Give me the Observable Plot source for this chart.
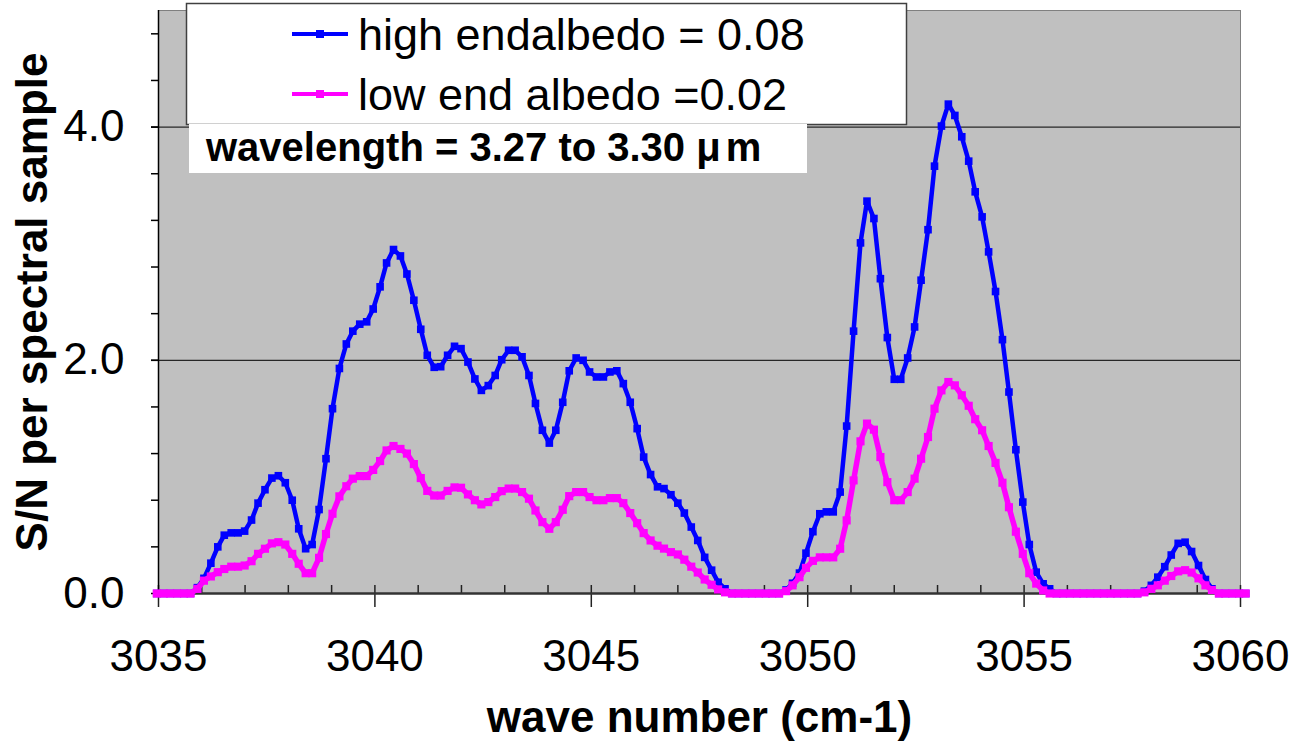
<!DOCTYPE html>
<html>
<head>
<meta charset="utf-8">
<script src="https://cdn.jsdelivr.net/npm/d3@7"></script>
<script src="https://cdn.jsdelivr.net/npm/@observablehq/plot@0.6"></script>
<style>
  html, body { margin: 0; padding: 0; background: #fff; }
  #wrap { position: relative; width: 1313px; height: 746px; font-family: "Liberation Sans", Arial, sans-serif; }
  #overlay { position: absolute; left: 0; top: 0; pointer-events: none; }
</style>
</head>
<body>
<div id="wrap">
  <div id="chart"></div>
  <svg id="overlay" width="1313" height="746" font-family="Liberation Sans, Arial, sans-serif">
    <rect x="186.5" y="3.5" width="720" height="121" fill="#fff" stroke="#404040" stroke-width="1.5"></rect>
    <line x1="292" x2="348" y1="34" y2="34" stroke="#0000ff" stroke-width="4"></line>
    <rect x="316" y="30" width="8" height="8" fill="#0000ff"></rect>
    <text x="358" y="50" font-size="45" fill="#000">high endalbedo = 0.08</text>
    <line x1="292" x2="348" y1="94" y2="94" stroke="#ff00ff" stroke-width="4"></line>
    <rect x="316" y="90" width="8" height="8" fill="#ff00ff"></rect>
    <text x="358" y="110" font-size="45" fill="#000">low end albedo =0.02</text>
    <rect x="189" y="124" width="618" height="49" fill="#fff"></rect>
    <text x="206" y="161" font-size="40" font-weight="bold" fill="#000">wavelength = 3.27 to 3.30 <tspan>μ</tspan><tspan dx="5">m</tspan></text>
  </svg>
</div>
<script>
// ---- data ----
const waveNumber = [
  3034.96,3035.12,3035.27,3035.43,3035.59,3035.74,3035.90,3036.05,3036.21,3036.37,
  3036.52,3036.68,3036.84,3036.99,3037.15,3037.30,3037.46,3037.62,3037.77,3037.93,
  3038.09,3038.24,3038.40,3038.55,3038.71,3038.87,3039.02,3039.18,3039.34,3039.49,
  3039.65,3039.81,3039.96,3040.12,3040.27,3040.43,3040.59,3040.74,3040.90,3041.06,
  3041.21,3041.37,3041.52,3041.68,3041.84,3041.99,3042.15,3042.31,3042.46,3042.62,
  3042.78,3042.93,3043.09,3043.24,3043.40,3043.56,3043.71,3043.87,3044.03,3044.18,
  3044.34,3044.49,3044.65,3044.81,3044.96,3045.12,3045.28,3045.43,3045.59,3045.74,
  3045.90,3046.06,3046.21,3046.37,3046.53,3046.68,3046.84,3047.00,3047.15,3047.31,
  3047.46,3047.62,3047.78,3047.93,3048.09,3048.25,3048.40,3048.56,3048.71,3048.87,
  3049.03,3049.18,3049.34,3049.50,3049.65,3049.81,3049.96,3050.12,3050.28,3050.43,
  3050.59,3050.75,3050.90,3051.06,3051.22,3051.37,3051.53,3051.68,3051.84,3052.00,
  3052.15,3052.31,3052.47,3052.62,3052.78,3052.93,3053.09,3053.25,3053.40,3053.56,
  3053.72,3053.87,3054.03,3054.18,3054.34,3054.50,3054.65,3054.81,3054.97,3055.12,
  3055.28,3055.44,3055.59,3055.75,3055.90,3056.06,3056.22,3056.37,3056.53,3056.69,
  3056.84,3057.00,3057.15,3057.31,3057.47,3057.62,3057.78,3057.94,3058.09,3058.25,
  3058.40,3058.56,3058.72,3058.87,3059.03,3059.19,3059.34,3059.50,3059.65,3059.81,
  3059.97,3060.12
];
const highAlbedo = [
  0,0,0,0,0,0,
  0.05,0.13,0.26,0.40,0.50,
  0.52,0.52,0.535,0.63,0.775,
  0.89,0.99,1.01,0.95,0.80,
  0.555,0.384,0.42,0.72,1.156,
  1.585,1.93,2.14,2.25,2.31,
  2.33,2.44,2.63,2.835,2.95,
  2.895,2.74,2.515,2.266,2.043,
  1.94,1.945,2.043,2.12,2.10,
  1.985,1.84,1.742,1.783,1.87,
  2.005,2.086,2.086,2.03,1.87,
  1.63,1.40,1.29,1.40,1.64,
  1.91,2.02,2.00,1.90,1.857,
  1.857,1.90,1.91,1.80,1.64,
  1.414,1.17,1.02,0.915,0.90,
  0.847,0.775,0.69,0.57,0.455,
  0.31,0.20,0.097,0.04,0,
  0,0,0,0,0,
  0,0,0.03,0.088,0.175,
  0.346,0.53,0.684,0.70,0.70,
  0.87,1.436,2.25,3.007,3.365,
  3.216,2.70,2.195,1.837,1.837,
  2.02,2.286,2.687,3.12,3.665,
  4.009,4.197,4.10,3.917,3.708,
  3.445,3.23,2.93,2.59,2.177,
  1.728,1.233,0.784,0.42,0.183,
  0.083,0.04,0,0,0,
  0,0,0,0,0,
  0,0,0,0,0,
  0.02,0.07,0.14,0.23,0.33,
  0.43,0.44,0.36,0.24,0.12,
  0.04,0,0,0,0,0
];
const lowAlbedo = [
  0,0,0,0,0,0,
  0.04,0.11,0.146,0.183,0.21,
  0.23,0.23,0.24,0.277,0.34,
  0.384,0.43,0.44,0.42,0.34,
  0.255,0.174,0.174,0.306,0.51,
  0.684,0.833,0.92,0.985,1.007,
  1.007,1.06,1.136,1.227,1.265,
  1.24,1.20,1.11,0.99,0.88,
  0.84,0.84,0.88,0.91,0.907,
  0.85,0.80,0.764,0.784,0.827,
  0.878,0.90,0.90,0.87,0.813,
  0.712,0.612,0.555,0.612,0.718,
  0.835,0.87,0.87,0.827,0.80,
  0.80,0.818,0.818,0.775,0.69,
  0.603,0.518,0.455,0.41,0.385,
  0.355,0.335,0.29,0.23,0.18,
  0.12,0.075,0.035,0.01,0,
  0,0,0,0,0,
  0,0,0.02,0.07,0.14,
  0.22,0.28,0.31,0.31,0.31,
  0.384,0.627,0.97,1.305,1.457,
  1.405,1.17,0.955,0.80,0.80,
  0.87,0.985,1.156,1.342,1.585,
  1.742,1.814,1.785,1.70,1.61,
  1.495,1.40,1.265,1.12,0.95,
  0.74,0.53,0.34,0.174,0.085,
  0.026,0,0,0,0,
  0,0,0,0,0,
  0,0,0,0,0,
  0.01,0.04,0.07,0.11,0.15,
  0.19,0.20,0.18,0.13,0.07,
  0.03,0,0,0,0,0
];
const xDomain = [3035, 3060];
const yDomain = [0, 5];
const xLabelTicks = [3035, 3040, 3045, 3050, 3055, 3060];
const xMinorTicks = [3036,3037,3038,3039,3041,3042,3043,3044,3046,3047,3048,3049,3051,3052,3053,3054,3056,3057,3058,3059];
const yLabelTicks = [0, 2, 4];
const yMinorTicks = [0.4,0.8,1.2,1.6,2.0,2.4,2.8,3.2,3.6,4.0,4.4,4.8];
const yGridLines = [2, 4];
const xTitle = "wave number (cm-1)";
const yTitle = "S/N per spectral sample";

// ---- layout ----
const W = 1313, H = 746, mL = 158, mR = 73, mT = 10, mB = 153;
const frameW = W - mL - mR, frameH = H - mT - mB;

const data = waveNumber.map((x, i) => ({x, high: highAlbedo[i], low: lowAlbedo[i]}));

const chart = Plot.plot({
  width: W, height: H,
  marginLeft: mL, marginRight: mR, marginTop: mT, marginBottom: mB,
  x: {domain: xDomain, axis: null},
  y: {domain: yDomain, axis: null},
  style: {fontFamily: "Liberation Sans, Arial, sans-serif", fontSize: "44px", color: "#000", background: "#fff", overflow: "visible"},
  marks: [
    Plot.frame({fill: "#c0c0c0", stroke: "#808080"}),
    Plot.ruleY(yGridLines, {stroke: "#000", strokeWidth: 1}),
    // y axis ticks (outward)
    Plot.ruleY(yMinorTicks, {insetLeft: -7, insetRight: frameW, stroke: "#000", strokeWidth: 1.5}),
    Plot.ruleY(yLabelTicks, {insetLeft: -7, insetRight: frameW, stroke: "#000", strokeWidth: 1.5}),
    // x axis ticks
    Plot.ruleX(xMinorTicks, {insetTop: frameH - 8, stroke: "#222", strokeWidth: 1.5}),
    Plot.ruleX(xLabelTicks, {insetTop: frameH - 8, insetBottom: -14, stroke: "#222", strokeWidth: 1.5}),
    // axis lines
    Plot.ruleX([xDomain[0]], {stroke: "#000", strokeWidth: 1.5}),
    Plot.ruleY([0], {stroke: "#333", strokeWidth: 2.5}),
    Plot.axisX({ticks: xLabelTicks, tickSize: 0, tickPadding: 46, tickFormat: d => String(d), label: null}),
    Plot.axisY({ticks: yLabelTicks, tickSize: 0, tickPadding: 34, tickFormat: d3.format(".1f"), label: null}),
    // series
    Plot.line(data, {x: "x", y: "high", stroke: "#0000ff", strokeWidth: 4.5}),
    Plot.dot(data, {x: "x", y: "high", symbol: "square", r: 4.3, fill: "#0000ff", stroke: "none"}),
    Plot.line(data, {x: "x", y: "low", stroke: "#ff00ff", strokeWidth: 5.5}),
    Plot.dot(data, {x: "x", y: "low", symbol: "square", r: 4.6, fill: "#ff00ff", stroke: "none"}),
    // titles
    Plot.text([yTitle], {text: d => d, frameAnchor: "left", dx: -126, rotate: -90, lineAnchor: "middle", textAnchor: "middle", fontWeight: "bold", fontSize: 44}),
    Plot.text([xTitle], {text: d => d, frameAnchor: "bottom", dy: 138, lineAnchor: "bottom", textAnchor: "middle", fontWeight: "bold", fontSize: 44})
  ]
});
document.getElementById("chart").appendChild(chart);
</script>
</body>
</html>
